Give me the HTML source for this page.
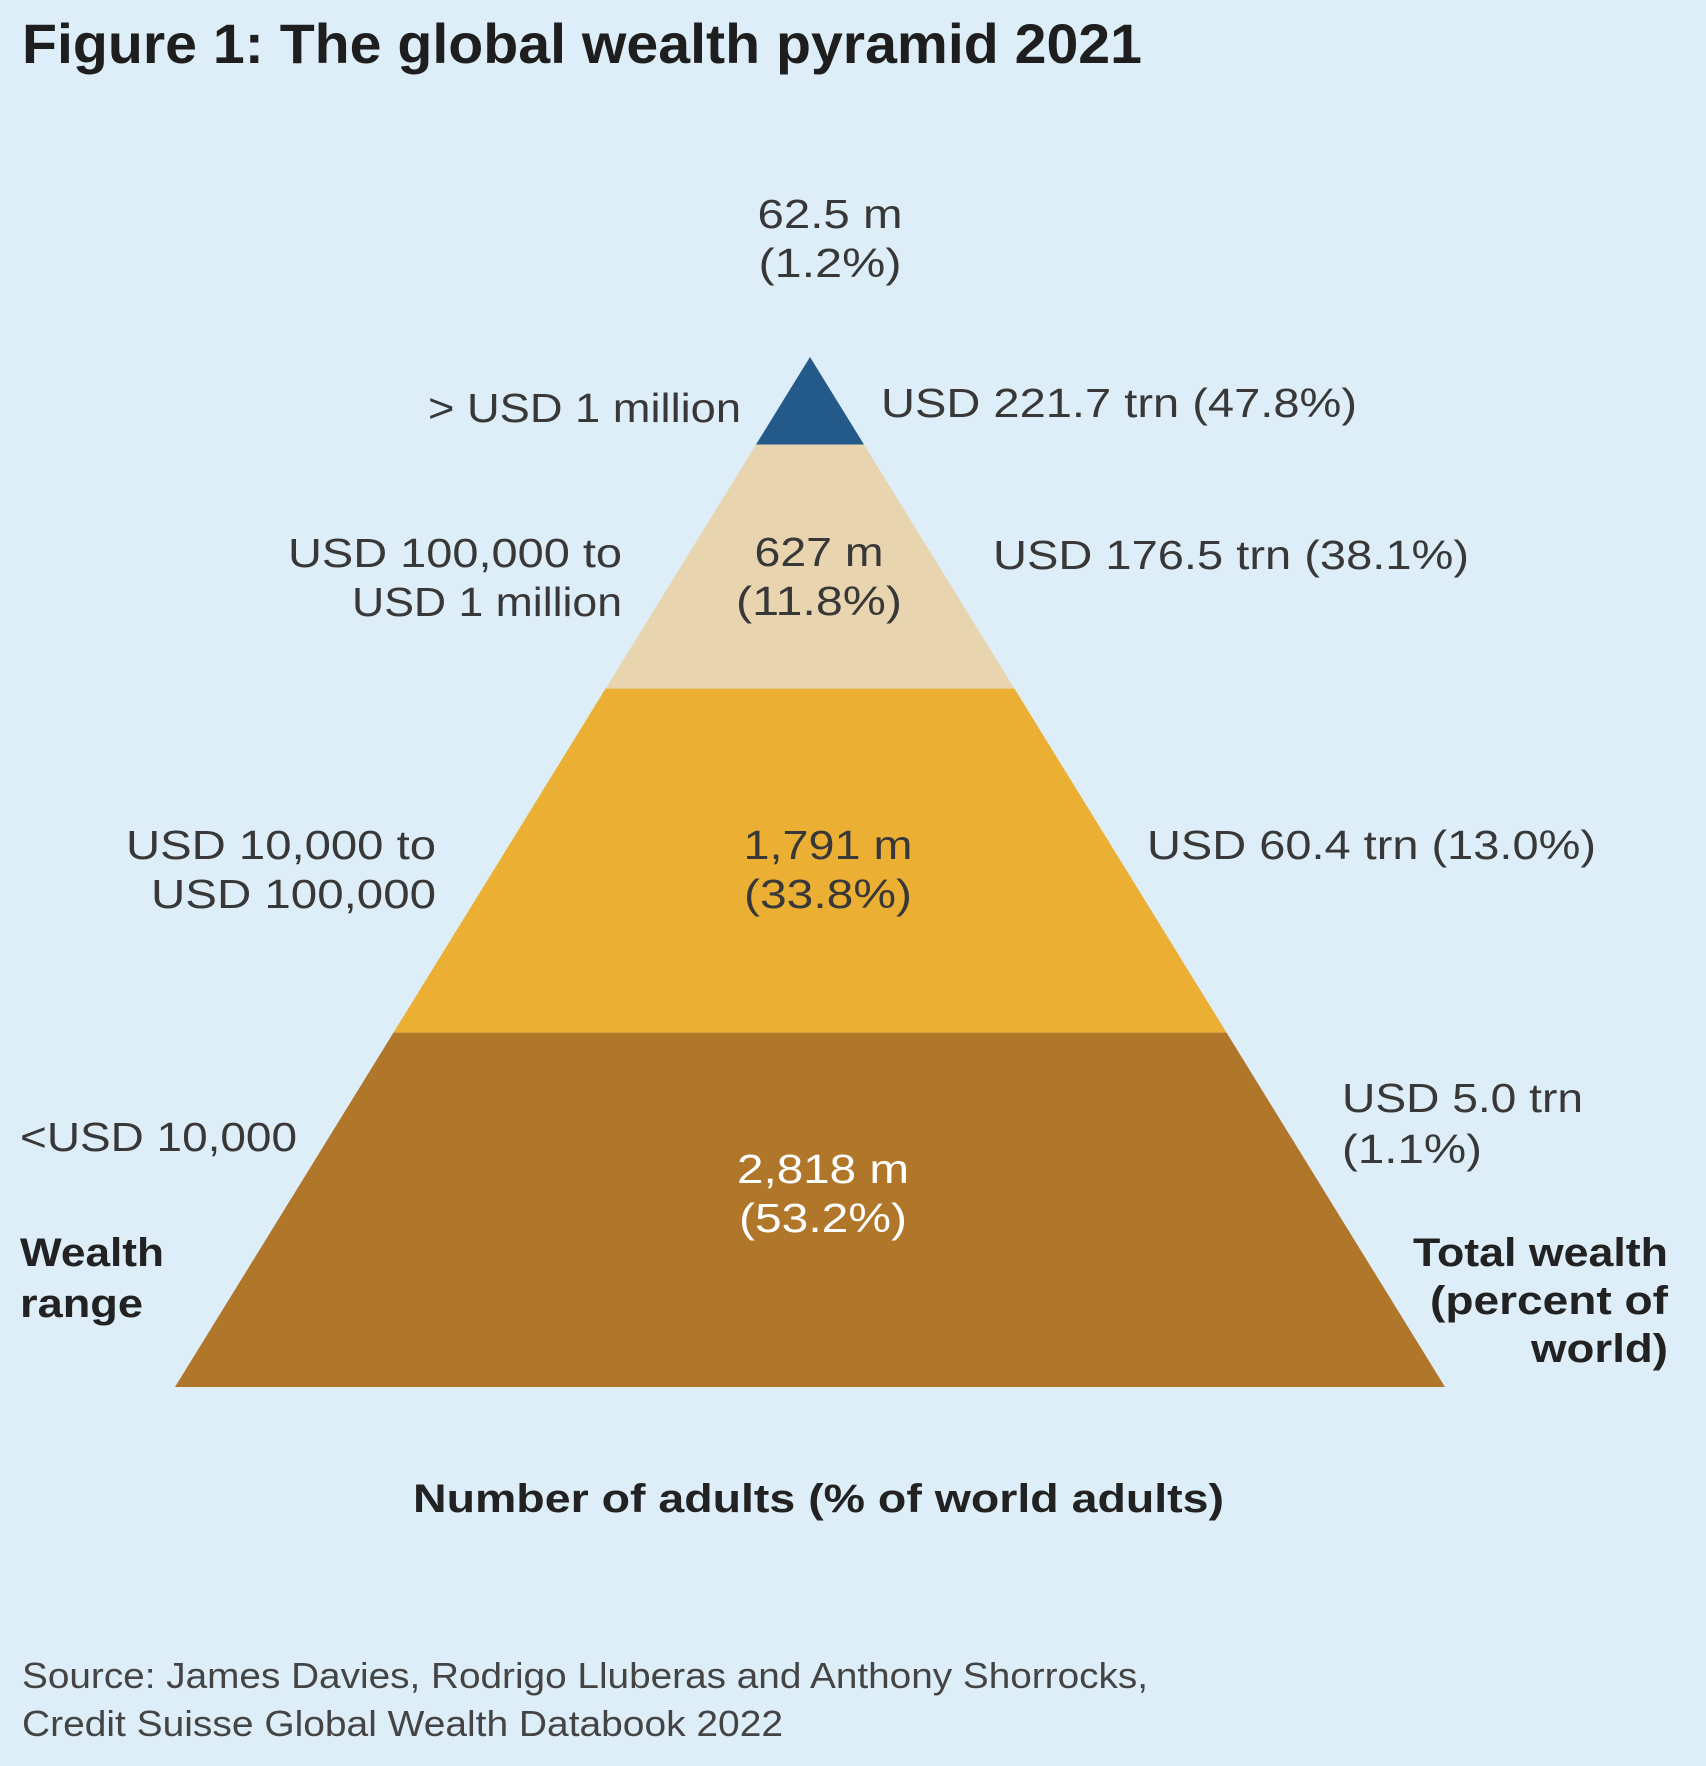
<!DOCTYPE html>
<html><head><meta charset="utf-8"><style>
html,body{margin:0;padding:0;background:#ddeef8;}
svg{display:block;font-family:"Liberation Sans",Arial,sans-serif;}
</style></head><body>
<svg id="chart" width="1706" height="1766" viewBox="0 0 1706 1766">
<rect x="0" y="0" width="1706" height="1766" fill="#ddeef8"/>
<text x="22" y="63" font-size="56" font-weight="bold" fill="#1e1e1e" textLength="1120" lengthAdjust="spacingAndGlyphs">Figure 1: The global wealth pyramid 2021</text>
<g id="bands"></g>
<g id="labels" fill="#383838" font-size="41"></g>
<text x="20" y="1266" font-size="40" font-weight="bold" fill="#222" textLength="144" lengthAdjust="spacingAndGlyphs">Wealth</text>
<text x="20" y="1317" font-size="40" font-weight="bold" fill="#222" textLength="123" lengthAdjust="spacingAndGlyphs">range</text>
<text x="1668" y="1266" font-size="40" font-weight="bold" fill="#222" text-anchor="end" textLength="255" lengthAdjust="spacingAndGlyphs">Total wealth</text>
<text x="1668" y="1314" font-size="40" font-weight="bold" fill="#222" text-anchor="end" textLength="238" lengthAdjust="spacingAndGlyphs">(percent of</text>
<text x="1668" y="1362" font-size="40" font-weight="bold" fill="#222" text-anchor="end" textLength="137" lengthAdjust="spacingAndGlyphs">world)</text>
<text x="413" y="1512" font-size="40" font-weight="bold" fill="#222" textLength="811" lengthAdjust="spacingAndGlyphs">Number of adults (% of world adults)</text>
<text x="22" y="1688" font-size="36" fill="#444" textLength="1126" lengthAdjust="spacingAndGlyphs">Source: James Davies, Rodrigo Lluberas and Anthony Shorrocks,</text>
<text x="22" y="1736" font-size="36" fill="#444" textLength="761" lengthAdjust="spacingAndGlyphs">Credit Suisse Global Wealth Databook 2022</text>
</svg>
<script>
// Data (top to bottom)
const ranges = ["> USD 1 million", "USD 100,000 to|USD 1 million", "USD 10,000 to|USD 100,000", "<USD 10,000"];
const adults = ["62.5 m", "627 m", "1,791 m", "2,818 m"];
const adultShares = ["(1.2%)", "(11.8%)", "(33.8%)", "(53.2%)"];
const wealth = ["USD 221.7 trn (47.8%)", "USD 176.5 trn (38.1%)", "USD 60.4 trn (13.0%)", "USD 5.0 trn|(1.1%)"];
const bandBreaks = [0, 0.085, 0.322, 0.656, 1];
const colors = ["#245a8a", "#e8d5b0", "#ebb033", "#b0762a"];

const NS = "http://www.w3.org/2000/svg";
const apexX = 810, apexY = 357, baseY = 1387, halfBase = 635;
function yAt(f){ return apexY + f*(baseY-apexY); }
function hw(f){ return halfBase*f; }
const bands = document.getElementById('bands');
const labels = document.getElementById('labels');
function txt(x,y,s,anchor,fill,name,len){
  const t=document.createElementNS(NS,'text');
  t.setAttribute('x',x);t.setAttribute('y',y);
  if(anchor) t.setAttribute('text-anchor',anchor);
  if(fill) t.setAttribute('fill',fill);
  if(len){ t.setAttribute('textLength',len); t.setAttribute('lengthAdjust','spacingAndGlyphs'); }
  t.textContent=s;
  
  
  labels.appendChild(t);
}
const rangeLens = [[313],[334,270],[310,285],[277]];
const adultLens = [145,129,169,172];
const shareLens = [143,166,168,168];
const adultX = [830,819,828,823];
for(let i=0;i<ranges.length;i++){
  const f0=bandBreaks[i], f1=bandBreaks[i+1];
  const y0=yAt(f0), y1=yAt(f1);
  const p=document.createElementNS(NS,'polygon');
  p.setAttribute('points',`${apexX-hw(f0)},${y0} ${apexX+hw(f0)},${y0} ${apexX+hw(f1)},${y1} ${apexX-hw(f1)},${y1}`);
  p.setAttribute('fill',colors[i]);
  
  
  bands.appendChild(p);
  const rl=ranges[i].split('|');
  if(i===0){ txt(741, 422, rl[0], 'end', null, 'range-label-1', rangeLens[0][0]); }
  else if(i===3){ txt(20, 1151, rl[0], 'start', null, 'range-label-4', rangeLens[3][0]); }
  else {
    const rx = i===1 ? 622 : 436; const ry = i===1 ? 567 : 859;
    txt(rx, ry, rl[0], 'end', null, 'range-label-'+(i+1)+'-line1', rangeLens[i][0]);
    txt(rx, ry+49, rl[1], 'end', null, 'range-label-'+(i+1)+'-line2', rangeLens[i][1]);
  }
  let ay;
  if(i===0){ ay=228; } else if(i===1){ ay=566; } else if(i===2){ ay=859; } else { ay=1183; }
  const fill = i===3 ? '#ffffff' : null;
  txt(adultX[i], ay, adults[i], 'middle', fill, 'adults-count-'+(i+1), adultLens[i]);
  txt(adultX[i], ay+49, adultShares[i], 'middle', fill, 'adults-share-'+(i+1), shareLens[i]);
  const wl=wealth[i].split('|');
  if(i===0) txt(881, 417, wl[0], 'start', null, 'wealth-label-1', 476);
  else if(i===1) txt(993, 569, wl[0], 'start', null, 'wealth-label-2', 476);
  else if(i===2) txt(1147, 859, wl[0], 'start', null, 'wealth-label-3', 449);
  else { txt(1342, 1112, wl[0], 'start', null, 'wealth-label-4-line1', 241); txt(1342, 1163, wl[1], 'start', null, 'wealth-label-4-line2', 140); }
}
</script>
</body></html>
